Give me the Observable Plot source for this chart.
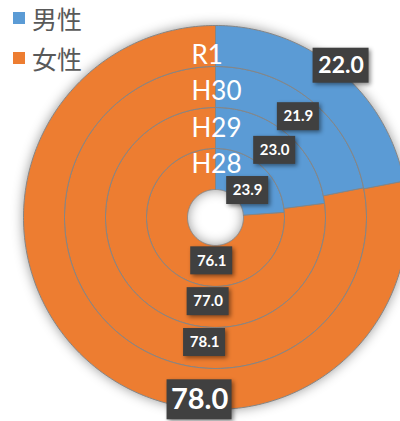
<!DOCTYPE html>
<html><head><meta charset="utf-8">
<script src="https://cdn.jsdelivr.net/npm/d3@7"></script>
<script src="https://cdn.jsdelivr.net/npm/@observablehq/plot@0.6"></script>
<style>
html,body{margin:0;padding:0;background:#fff;overflow:hidden;width:400px;height:421px;}
#wrap{position:relative;width:400px;height:421px;}
#legend{position:absolute;left:13px;top:-2px;font-family:"Noto Sans CJK JP",sans-serif;font-size:25px;color:#595959;}
#legend .row{display:flex;align-items:center;height:40px;}
#legend .sw{width:12px;height:12px;margin-right:7px;}
</style></head>
<body><div id="wrap"><div id="chart"></div><div id="legend"></div></div>
<script>
const categories = ["H28", "H29", "H30", "R1"];
const male = [23.9, 23.0, 21.9, 22.0];
const female = [76.1, 77.0, 78.1, 78.0];
const seriesNames = ["男性", "女性"];
const seriesColors = ["#5B9BD5", "#ED7D31"];

// layout (pixels)
const W = 400, H = 421, cx = 215, cy = 217;
const hole = 28, ringW = 41;

const polys = [];
const labels = [];
categories.forEach((c, i) => {
  const r0 = hole + i * ringW, r1 = r0 + ringW, rm = (r0 + r1) / 2;
  const outer = i === categories.length - 1;
  const inner = i === 0;
  let start = 0;
  [[male[i], seriesNames[0]], [female[i], seriesNames[1]]].forEach(([v, s], j) => {
    const a0 = start / 100 * 2 * Math.PI, a1 = (start + v) / 100 * 2 * Math.PI;
    start += v;
    const n = Math.max(2, Math.ceil((a1 - a0) / (Math.PI / 180)));
    for (let k = 0; k <= n; k++) {
      const a = a0 + (a1 - a0) * k / n;
      polys.push({x: r1 * Math.sin(a), y: r1 * Math.cos(a), z: c + s, s});
    }
    for (let k = n; k >= 0; k--) {
      const a = a0 + (a1 - a0) * k / n;
      polys.push({x: r0 * Math.sin(a), y: r0 * Math.cos(a), z: c + s, s});
    }
    let ang, rr;
    if (j === 0) {
      ang = (a0 + a1) / 2 + (inner ? 7 * Math.PI / 180 : 0);
      rr = outer ? r1 + 5 : inner ? rm - 6.5 : rm;
    } else {
      ang = Math.PI * 185 / 180;
      rr = outer ? r1 - 9 : rm - 5;
    }
    const fs = outer ? (j === 0 ? 23 : 29) : 15;
    const bw = outer ? (j === 0 ? 56 : 65) : 42;
    const bh = outer ? (j === 0 ? 35 : 40) : 28;
    labels.push({x: rr * Math.sin(ang), y: rr * Math.cos(ang), v, fs, bw, bh});
  });
});

const catLabels = categories.map((c, i) => ({c, y: 53 + i * 36.3}));

const plot = Plot.plot({
  width: W, height: H,
  margin: 0,
  x: {domain: [-cx, W - cx], axis: null},
  y: {domain: [cy - H, cy], axis: null},
  color: {domain: seriesNames, range: seriesColors},
  style: {background: "transparent", overflow: "visible"},
  marks: [
    Plot.line(polys, {x: "x", y: "y", z: "z", fill: "s", stroke: "#858585", strokeWidth: 1, curve: "linear-closed"}),
    Plot.text(catLabels, {x: () => 0, y: "y", text: "c", dx: -24, textAnchor: "start", fill: "white", fontSize: 26, fontFamily: "Lato, sans-serif"}),
    Plot.rect(labels, {x1: d => d.x - d.bw / 2, x2: d => d.x + d.bw / 2, y1: d => d.y - d.bh / 2, y2: d => d.y + d.bh / 2, fill: "#404040"}),
    Plot.text(labels, {x: "x", y: "y", text: d => d.v.toFixed(1), fill: "white", fontWeight: "bold", fontSize: d => d.fs, fontFamily: "Lato, sans-serif"})
  ]
});
document.getElementById("chart").appendChild(plot);

plot.querySelectorAll('g[aria-label="line"]').forEach(g => g.style.filter = "drop-shadow(0 0 6px rgba(0,0,0,0.4))");
plot.querySelectorAll('g[aria-label="rect"]').forEach(g => g.style.filter = "drop-shadow(2px 2px 2px rgba(0,0,0,0.45))");

const leg = document.getElementById("legend");
seriesNames.forEach((s, i) => {
  const row = document.createElement("div"); row.className = "row";
  const sw = document.createElement("span"); sw.className = "sw"; sw.style.background = seriesColors[i];
  const t = document.createElement("span"); t.textContent = s;
  row.appendChild(sw); row.appendChild(t); leg.appendChild(row);
});
</script></body></html>
